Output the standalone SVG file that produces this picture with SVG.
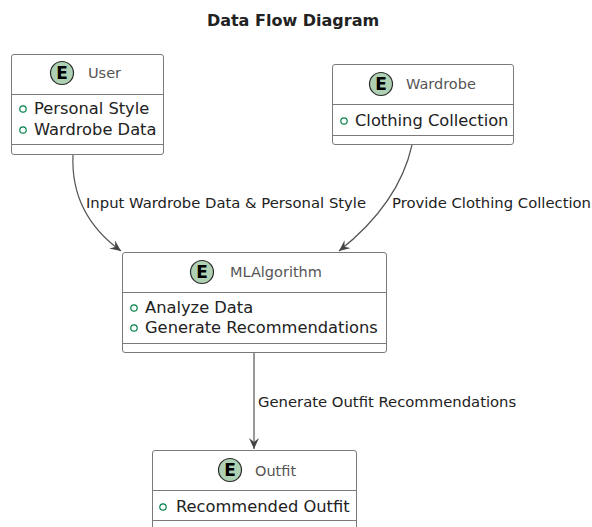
<svg xmlns="http://www.w3.org/2000/svg" width="592" height="527" viewBox="0 0 592 527">
<defs>
<style>
.box{fill:#FFFFFF;stroke:#7A7A7A;stroke-width:1}
.sep{stroke:#7A7A7A;stroke-width:1}
.circ{fill:#ADD1B2;stroke:#2A2A2A;stroke-width:1.2}
.E{font-family:"DejaVu Sans",sans-serif;font-size:17px;font-weight:bold;fill:#000}
.name{font-family:"DejaVu Sans",sans-serif;font-size:14.5px;fill:#555555}
.attr{font-family:"DejaVu Sans",sans-serif;font-size:16.3px;fill:#222222}
.dot{fill:none;stroke:#038048;stroke-width:1.2}
.lbl{font-family:"DejaVu Sans",sans-serif;font-size:14.8px;fill:#222222}
.edge{fill:none;stroke:#555555;stroke-width:1.2}
.title{font-family:"DejaVu Sans",sans-serif;font-size:16px;font-weight:bold;fill:#222222}
</style>
<marker id="arr" viewBox="0 0 12 10" refX="11" refY="5" markerWidth="12" markerHeight="10" markerUnits="userSpaceOnUse" orient="auto">
<path d="M0,0 L11,5 L0,10 L4,5 Z" fill="#444444"/>
</marker>
</defs>
<rect width="592" height="527" fill="#FFFFFF"/>
<text class="title" x="293" y="26" text-anchor="middle">Data Flow Diagram</text>

<g id="connectors">
<path class="edge" d="M73,155 C71,200 92,230 121,251" marker-end="url(#arr)"/>
<text class="lbl" x="86" y="208">Input Wardrobe Data &amp; Personal Style</text>
<path class="edge" d="M412,145 C402,190 372,225 339,251" marker-end="url(#arr)"/>
<text class="lbl" x="392" y="208">Provide Clothing Collection</text>
<path class="edge" d="M254,353 L254,449" marker-end="url(#arr)"/>
<text class="lbl" x="258" y="407">Generate Outfit Recommendations</text>
</g>

<g id="User">
<rect class="box" x="11.5" y="54.5" width="152" height="100" rx="2.5"/>
<line class="sep" x1="11.5" y1="94.5" x2="163.5" y2="94.5"/>
<line class="sep" x1="11.5" y1="144.5" x2="163.5" y2="144.5"/>
<circle class="circ" cx="62" cy="73" r="11.5"/>
<text class="E" x="62" y="79" text-anchor="middle">E</text>
<text class="name" x="88" y="78">User</text>
<circle class="dot" cx="23" cy="109" r="3.2"/>
<text class="attr" x="34" y="114">Personal Style</text>
<circle class="dot" cx="23" cy="130" r="3.2"/>
<text class="attr" x="34" y="135">Wardrobe Data</text>
</g>

<g id="Wardrobe">
<rect class="box" x="332.5" y="64.5" width="181" height="80" rx="2.5"/>
<line class="sep" x1="332.5" y1="104.5" x2="513.5" y2="104.5"/>
<line class="sep" x1="332.5" y1="135.5" x2="513.5" y2="135.5"/>
<circle class="circ" cx="381" cy="84" r="11.5"/>
<text class="E" x="381" y="90" text-anchor="middle">E</text>
<text class="name" x="406" y="89">Wardrobe</text>
<circle class="dot" cx="344" cy="121" r="3.2"/>
<text class="attr" x="355" y="126">Clothing Collection</text>
</g>

<g id="MLAlgorithm">
<rect class="box" x="122.5" y="252.5" width="264" height="100" rx="2.5"/>
<line class="sep" x1="122.5" y1="292.5" x2="386.5" y2="292.5"/>
<line class="sep" x1="122.5" y1="343.5" x2="386.5" y2="343.5"/>
<circle class="circ" cx="202" cy="272" r="11.5"/>
<text class="E" x="202" y="278" text-anchor="middle">E</text>
<text class="name" x="230" y="277">MLAlgorithm</text>
<circle class="dot" cx="134" cy="308" r="3.2"/>
<text class="attr" x="145" y="313">Analyze Data</text>
<circle class="dot" cx="134" cy="328" r="3.2"/>
<text class="attr" x="145" y="333">Generate Recommendations</text>
</g>

<g id="Outfit">
<rect class="box" x="152.5" y="450.5" width="204" height="90" rx="2.5"/>
<line class="sep" x1="152.5" y1="490.5" x2="356.5" y2="490.5"/>
<line class="sep" x1="152.5" y1="520.5" x2="356.5" y2="520.5"/>
<circle class="circ" cx="230" cy="470" r="11.5"/>
<text class="E" x="230" y="476" text-anchor="middle">E</text>
<text class="name" x="255" y="476">Outfit</text>
<circle class="dot" cx="163" cy="507" r="3.2"/>
<text class="attr" x="176" y="512">Recommended Outfit</text>
</g>
</svg>
